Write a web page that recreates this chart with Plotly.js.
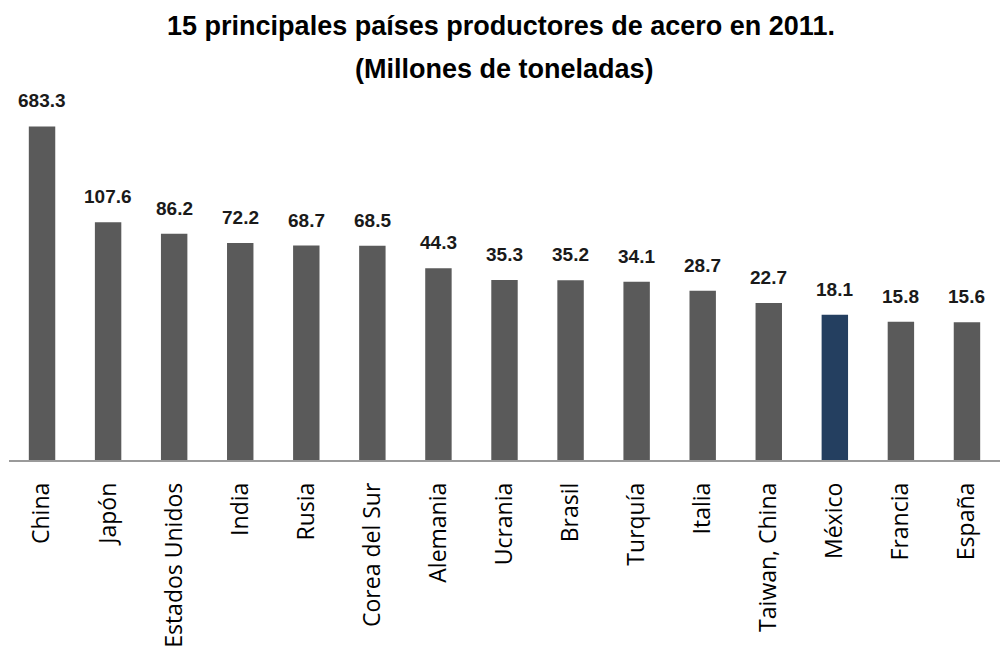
<!DOCTYPE html>
<html>
<head>
<meta charset="utf-8">
<script src="https://cdn.plot.ly/plotly-3.0.1.min.js"></script>
<style>html,body{margin:0;padding:0;background:#fff;}#chart{width:1002px;height:650px;}</style>
</head>
<body>
<div id="chart"></div>
<script>
const countries = ["China","Japón","Estados Unidos","India","Rusia","Corea del Sur","Alemania","Ucrania","Brasil","Turquía","Italia","Taiwan, China","México","Francia","España"];
const production = [683.3,107.6,86.2,72.2,68.7,68.5,44.3,35.3,35.2,34.1,28.7,22.7,18.1,15.8,15.6];
const valueLabels = ["683.3","107.6","86.2","72.2","68.7","68.5","44.3","35.3","35.2","34.1","28.7","22.7","18.1","15.8","15.6"];
const highlight = "México";
const titleLine1 = "15 principales países productores de acero en 2011.";
const titleLine2 = "(Millones de toneladas)";

const barColors = countries.map(c => c === highlight ? "#243F60" : "#5A5A5A");
const labelFont = "Liberation Sans, Arial, sans-serif";

const trace = {
  type: "bar",
  x: countries,
  y: production,
  marker: {color: barColors, line: {width: 0}},
  hoverinfo: "x+y",
  showlegend: false
};

const annotations = countries.map((c, i) => ({
  x: c,
  y: Math.log10(production[i]),
  xref: "x",
  yref: "y",
  text: "<b>" + valueLabels[i] + "</b>",
  showarrow: false,
  yanchor: "bottom",
  yshift: 13,
  font: {family: labelFont, size: 19, color: "#1a1a1a"}
}));
annotations.push({
  xref: "paper", yref: "paper", x: 0.5, y: 1, xanchor: "center", yanchor: "bottom",
  yshift: 4,
  text: "<b>" + titleLine2 + "</b>", showarrow: false,
  font: {family: labelFont, size: 27, color: "#000"}
});

const layout = {
  width: 1002,
  height: 650,
  margin: {l: 9, r: 2, t: 90, b: 190},
  paper_bgcolor: "#fff",
  plot_bgcolor: "#fff",
  title: {
    text: "<b>" + titleLine1 + "</b>",
    x: 0.5, xanchor: "center",
    y: 1, yref: "container", yanchor: "top", pad: {t: 16},
    font: {family: labelFont, size: 27, color: "#000"}
  },
  bargap: 0.6,
  xaxis: {
    type: "category",
    tickangle: -90,
    tickfont: {family: "Open Sans, DejaVu Sans, sans-serif", size: 23, color: "#000"},
    showline: true,
    linecolor: "#9A9A9A",
    linewidth: 1.5,
    ticks: "",
    showgrid: false,
    zeroline: false,
    ticklabelstandoff: 12
  },
  yaxis: {
    type: "log",
    range: [0.04, 3.14],
    visible: false,
    showgrid: false,
    zeroline: false
  },
  annotations: annotations
};

Plotly.newPlot("chart", [trace], layout, {displayModeBar: false, staticPlot: true});
</script>
</body>
</html>
